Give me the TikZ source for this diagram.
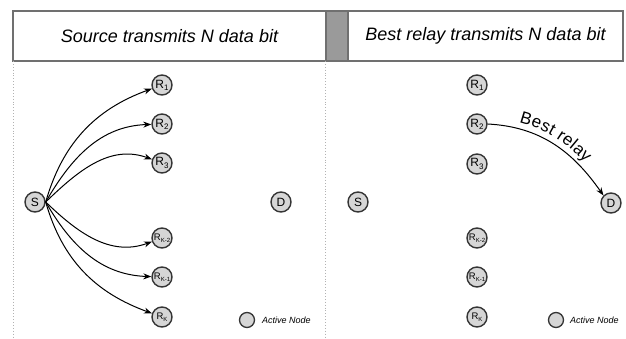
\documentclass[tikz,border=0pt]{standalone}
\usepackage{fontspec}
\setmainfont{Liberation Sans}
\usetikzlibrary{arrows.meta,decorations.text}
\definecolor{nodefill}{HTML}{D6D6D6}
\definecolor{nodeline}{HTML}{353535}
\definecolor{hdrline}{HTML}{707070}
\definecolor{hdrgrey}{HTML}{9A9A9A}
\newcommand{\Rsub}[1]{R\raisebox{-0.35ex}{\fontsize{8}{8}\selectfont #1}}
\newcommand{\Rksub}[1]{{\fontsize{9.5}{9.5}\selectfont R}\raisebox{-0.3ex}{\fontsize{6}{6}\selectfont #1}}
\tikzset{
  netnode/.style={circle, draw=nodeline, fill=nodefill, line width=1.4pt,
    minimum size=20pt, inner sep=0pt, font=\fontsize{12}{12}\selectfont},
  legnode/.style={circle, draw=nodeline, fill=nodefill, line width=1.3pt,
    minimum size=15pt, inner sep=0pt},
  legtext/.style={anchor=west, inner sep=0pt, font=\fontsize{9}{9}\selectfont\itshape},
  hdrbox/.style={draw=hdrline, line width=1.5pt},
  title/.style={font=\fontsize{18}{18}\selectfont\itshape},
  sep/.style={draw=gray!60, dotted, line width=0.9pt},
  arr/.style={draw=black, line width=1pt, -{Stealth[length=8pt,width=6pt]}}
}
\begin{document}
\begin{tikzpicture}[x=1pt,y=1pt]
\useasboundingbox (0,0) rectangle (626,-339);
% header
\draw[hdrbox, fill=white] (13,-11) rectangle (326,-61);
\draw[hdrbox, fill=hdrgrey] (326,-11) rectangle (348,-61);
\draw[hdrbox, fill=white] (348,-11) rectangle (623,-61);
\node[title] (t1) at (169.5,-36) {Source transmits N data bit};
\node[title] (t2) at (485.5,-36) {Best relay transmits N data bit};
% separators
\coordinate (s1a) at (13,-61); \coordinate (s1b) at (13,-339);
\coordinate (s2a) at (325,-61); \coordinate (s2b) at (325,-339);
\draw[sep] (s1a) -- (s1b);
\draw[sep] (s2a) -- (s2b);
% left panel
\node[netnode] (lS) at (35,-202) {S};
\node[netnode] (lR1) at (162,-85) {\Rsub{1}};
\node[netnode] (lR2) at (162,-124) {\Rsub{2}};
\node[netnode] (lR3) at (162,-163) {\Rsub{3}};
\node[netnode] (lRk2) at (162,-238) {\Rksub{K-2}};
\node[netnode] (lRk1) at (162,-277) {\Rksub{K-1}};
\node[netnode] (lRk) at (162,-317) {\Rksub{K}};
\node[netnode] (lD) at (281,-202) {D};
\draw[arr] (lS.east) to[out=74,in=200] (lR1);
\draw[arr] (lS.east) to[out=60,in=182] (lR2);
\draw[arr] (lS.east) to[out=44,in=160] (lR3);
\draw[arr] (lS.east) to[out=-44,in=200] (lRk2);
\draw[arr] (lS.east) to[out=-60,in=178] (lRk1);
\draw[arr] (lS.east) to[out=-74,in=160] (lRk);
\node[legnode] (lLeg) at (247,-320) {};
\node[legtext] (lLegT) at (262,-320) {Active Node};
% right panel
\node[netnode] (rS) at (358,-202) {S};
\node[netnode] (rR1) at (477,-85) {\Rsub{1}};
\node[netnode] (rR2) at (477,-124) {\Rsub{2}};
\node[netnode] (rR3) at (477,-164) {\Rsub{3}};
\node[netnode] (rRk2) at (477,-238) {\Rksub{K-2}};
\node[netnode] (rRk1) at (477,-277) {\Rksub{K-1}};
\node[netnode] (rRk) at (477,-317) {\Rksub{K}};
\node[netnode] (rD) at (611,-203) {D};
\draw[arr] (rR2.east) to[out=-3,in=125] (rD.135);
\path[decorate, decoration={text along path, raise=6pt,
   text align={left indent=30pt},
   text={|\fontsize{17}{17}\selectfont|Best relay}}]
   (rR2.east) to[out=-3,in=125] (rD.135);
\node[legnode] (rLeg) at (556,-320) {};
\node[legtext] (rLegT) at (570,-320) {Active Node};
\end{tikzpicture}
\end{document}
